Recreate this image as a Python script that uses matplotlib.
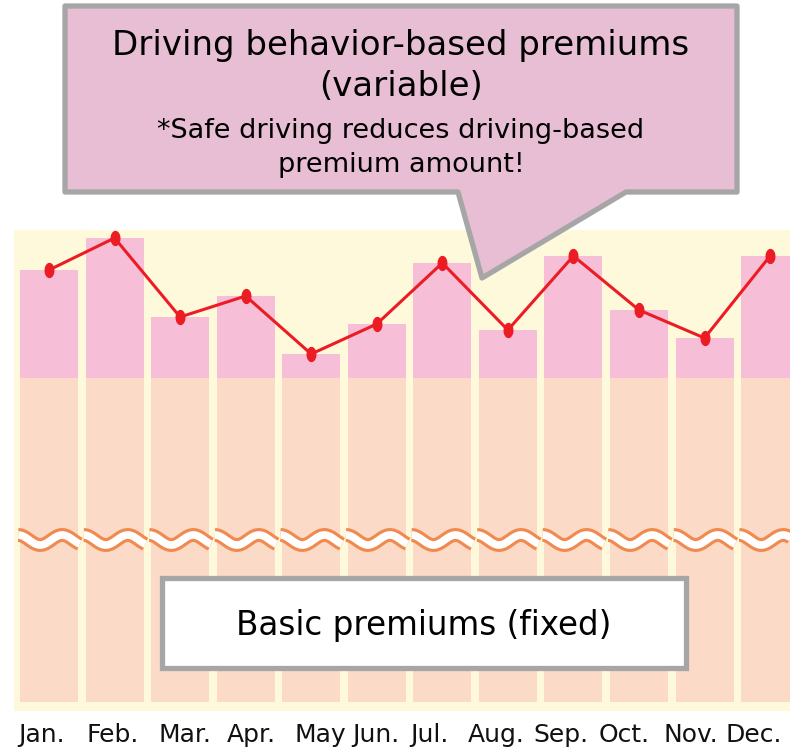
import numpy as np
import matplotlib.pyplot as plt
from matplotlib.patches import Rectangle, Polygon
from matplotlib.path import Path

months = ["Jan.", "Feb.", "Mar.", "Apr.", "May", "Jun.", "Jul.",
          "Aug.", "Sep.", "Oct.", "Nov.", "Dec."]
fixed_premium = 324
variable_premium = [108, 140, 61, 82, 24, 54, 115, 48, 122, 68, 40, 122]

W, H = 790, 751
fig = plt.figure(figsize=(W / 100, H / 100), dpi=100)
ax = fig.add_axes([0, 0, 1, 1])
step = 65.55
ax.set_xlim(-49 / step, (W - 49) / step)
ax.set_ylim(702 - H, 702)
ax.axis("off")

# pixel -> figure fraction, for the decorations
def fx(px):
    return px / W

def fy(py):
    return 1 - py / H

x = np.arange(len(months))
totals = [fixed_premium + v for v in variable_premium]

ax.add_patch(Rectangle((fx(14), fy(711)), 1 - fx(14), fy(230) - fy(711),
                       transform=fig.transFigure, facecolor="#fff9dc",
                       edgecolor="none", zorder=0))

bw = 58 / step
ax.bar(x, [fixed_premium] * len(x), width=bw, color="#fcdac8", zorder=1)
ax.bar(x, variable_premium, bottom=fixed_premium, width=bw,
       color="#f7bfd7", zorder=1)

# wavy break marks
wy = 702 - 540
for i in x:
    xs = np.linspace(i - 0.47, i + 0.47, 80)
    ys = wy + 5 * np.cos(2 * np.pi * (xs - xs[0]) / (44 / step))
    ax.plot(xs, ys, color="#f08a4f", lw=10, solid_capstyle="butt", zorder=2)
    ax.plot(xs, ys, color="white", lw=5.5, solid_capstyle="butt", zorder=2)

t = np.linspace(0, 2 * np.pi, 40)
ellipse = Path(np.column_stack([0.62 * np.cos(t), np.sin(t)]))
ax.plot(x, totals, color="#ec1c24", lw=2.2, marker=ellipse, markersize=10,
        zorder=3)

# month labels sit as a text run, slightly off the bar centres
label_shift = [-7, -2, 5, 6, 9, -1, -13, -12, -12, -15, -14, -16]
for i, m, dx in zip(x, months, label_shift):
    ax.text(i + dx / step, 702 - 735, m, ha="center", va="center",
            fontsize=18, color="#111111")

# callout
pts = [(65, 6), (737, 6), (737, 192), (626, 192), (482, 278), (458, 192),
       (65, 192)]
fig.patches.append(Polygon([(fx(a), fy(b)) for a, b in pts], closed=True,
                           transform=fig.transFigure, facecolor="#e8bed4",
                           edgecolor="#a6a6a6", lw=3.8, joinstyle="round",
                           zorder=5))
fig.text(fx(401), fy(45), "Driving behavior-based premiums", ha="center",
         va="center", fontsize=24.5, zorder=6)
fig.text(fx(401), fy(86), "(variable)", ha="center", va="center",
         fontsize=24.5, zorder=6)
fig.text(fx(401), fy(131), "*Safe driving reduces driving-based",
         ha="center", va="center", fontsize=19.5, zorder=6)
fig.text(fx(401), fy(165), "premium amount!", ha="center", va="center",
         fontsize=19.5, zorder=6)

# fixed premium label box
fig.patches.append(Rectangle((fx(162), fy(668)), fx(686) - fx(162),
                             fy(578) - fy(668), transform=fig.transFigure,
                             facecolor="white", edgecolor="#a6a6a6", lw=3.8,
                             zorder=5))
fig.text(fx(424), fy(625), "Basic premiums (fixed)", ha="center",
         va="center", fontsize=23.5, zorder=6)

fig.savefig("out.png", dpi=100)
